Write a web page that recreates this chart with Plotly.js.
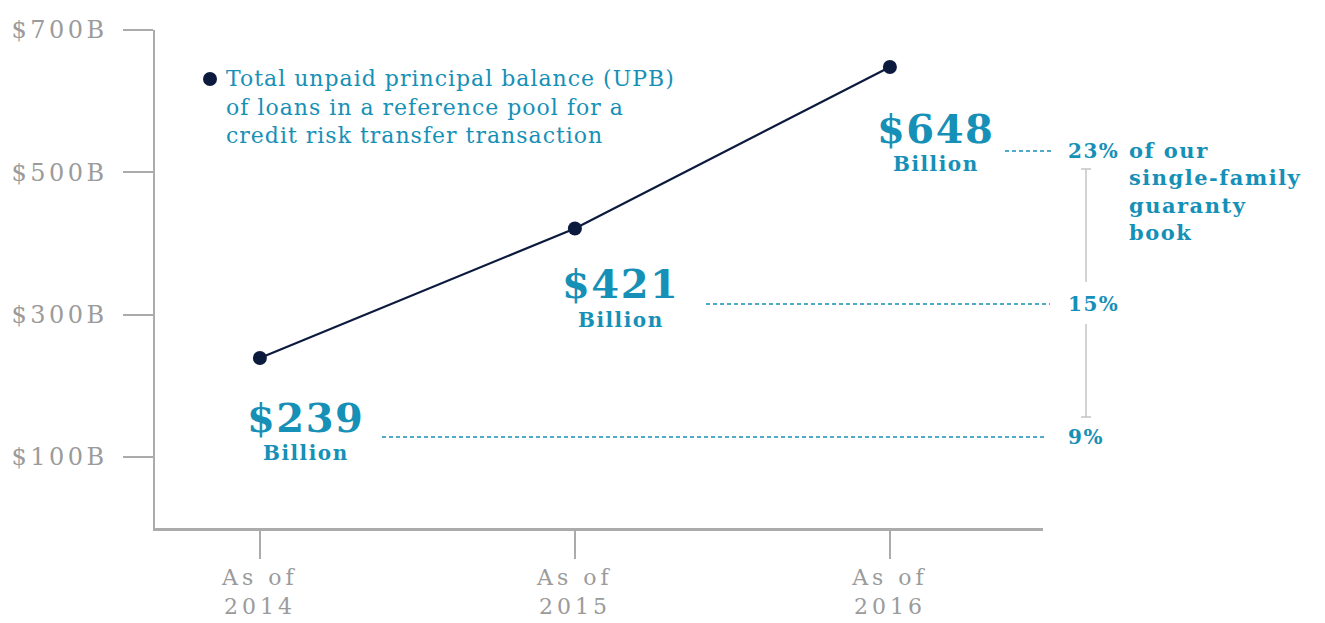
<!DOCTYPE html>
<html>
<head>
<meta charset="utf-8">
<script src="https://cdn.plot.ly/plotly-3.0.1.min.js"></script>
<style>
html,body{margin:0;padding:0;background:#fff;}
#chart{width:1325px;height:623px;}
.xtick text{letter-spacing:4px;}
.ytick text{letter-spacing:3.5px;}
.annotation-text{letter-spacing:1.5px;}
.annotation[data-index="10"] text{letter-spacing:1px;}
</style>
</head>
<body>
<div id="chart"></div>
<script>
// ---- data ----
const years = ['2014', '2015', '2016'];
const upb = [239, 421, 648];             // $ billions
const shares = ['9%', '15%', '23%'];     // share of single-family guaranty book
const yTickVals = [100, 300, 500, 700];
const yTickLabels = ['$100B', '$300B', '$500B', '$700B'];
const legendText = 'Total unpaid principal balance (UPB)<br>of loans in a reference pool for a<br>credit risk transfer transaction';
const shareNote = 'of our<br>single-family<br>guaranty<br>book';

// ---- style ----
const TEAL = '#1690b6';
const NAVY = '#0c1a3e';
const GRAY = '#9b9b9b';
const AXIS = '#ababab';
const FONT = 'DejaVu Serif';

// plot area geometry in pixels (for decorations only)
const L = 155, T = 30, W = 888, H = 498;
const px = x => (x - L) / W;
const py = y => (T + H - y) / H;

const xIdx = years.map((_, i) => i);

const trace = {
  x: xIdx, y: upb, type: 'scatter', mode: 'lines+markers',
  line: {color: NAVY, width: 2.2},
  marker: {color: NAVY, size: 14},
  hoverinfo: 'skip', showlegend: false, cliponaxis: false
};

const valShift = [-60, -55, -62];
const billShift = [-95, -92, -97];
const annotations = [];
// value labels under each point
upb.forEach((v, i) => {
  annotations.push({x: i, y: v, xref: 'x', yref: 'y', text: '$' + v, showarrow: false,
    xshift: 46, yshift: valShift[i], font: {family: FONT, size: 40, color: TEAL, weight: 'bold'}});
  annotations.push({x: i, y: v, xref: 'x', yref: 'y', text: 'Billion', showarrow: false,
    xshift: 46, yshift: billShift[i], font: {family: FONT, size: 20, color: TEAL, weight: 'bold'}});
});
// share labels
const shareY = [437, 304, 151];
shares.forEach((s, i) => {
  annotations.push({x: px(1066), y: py(shareY[i]), xref: 'paper', yref: 'paper', text: s,
    showarrow: false, xanchor: 'left', yanchor: 'middle',
    font: {family: FONT, size: 20, color: TEAL, weight: 'bold'}});
});
annotations.push({x: px(1127), y: py(136), xref: 'paper', yref: 'paper', text: shareNote,
  showarrow: false, xanchor: 'left', yanchor: 'top', align: 'left',
  font: {family: FONT, size: 21, color: TEAL, weight: 'bold'}});
// legend
annotations.push({x: px(224), y: py(64), xref: 'paper', yref: 'paper', text: legendText,
  showarrow: false, xanchor: 'left', yanchor: 'top', align: 'left',
  font: {family: FONT, size: 22, color: TEAL}});

const dash = {color: TEAL, width: 1.4, dash: '4px,3px'};
const grayLine = {color: '#c4c4c4', width: 1.5};
const shapes = [
  // dashed leaders
  {type: 'line', xref: 'paper', yref: 'paper', x0: px(382), x1: px(1044), y0: py(437), y1: py(437), line: dash},
  {type: 'line', xref: 'paper', yref: 'paper', x0: px(706), x1: px(1050), y0: py(304), y1: py(304), line: dash},
  {type: 'line', xref: 'paper', yref: 'paper', x0: px(1005), x1: px(1052), y0: py(151), y1: py(151), line: dash},
  // vertical bracket
  {type: 'line', xref: 'paper', yref: 'paper', x0: px(1086), x1: px(1086), y0: py(169), y1: py(282), line: grayLine},
  {type: 'line', xref: 'paper', yref: 'paper', x0: px(1086), x1: px(1086), y0: py(324), y1: py(417), line: grayLine},
  {type: 'line', xref: 'paper', yref: 'paper', x0: px(1081), x1: px(1091), y0: py(169), y1: py(169), line: grayLine},
  {type: 'line', xref: 'paper', yref: 'paper', x0: px(1081), x1: px(1091), y0: py(417), y1: py(417), line: grayLine},
  // legend dot
  {type: 'circle', xref: 'paper', yref: 'paper', x0: px(203), x1: px(217), y0: py(72), y1: py(86),
    fillcolor: NAVY, line: {width: 0}}
];

const layout = {
  width: 1325, height: 623,
  margin: {l: L, r: 1325 - L - W, t: T, b: 623 - T - H},
  paper_bgcolor: '#fff', plot_bgcolor: '#fff',
  font: {family: FONT},
  xaxis: {
    range: [-0.333, 2.486], tickvals: xIdx, ticktext: years.map(y => 'As of<br>' + y),
    showgrid: false, zeroline: false, showline: true, linecolor: AXIS, linewidth: 3,
    ticks: 'outside', ticklen: 28, tickwidth: 1.5, tickcolor: AXIS,
    tickfont: {family: FONT, size: 22, color: GRAY}, ticklabelstandoff: 0
  },
  yaxis: {
    range: [0, 700], tickvals: yTickVals, ticktext: yTickLabels,
    showgrid: false, zeroline: false, showline: true, linecolor: AXIS, linewidth: 2.5,
    ticks: 'outside', ticklen: 30, tickwidth: 2, tickcolor: AXIS,
    tickfont: {family: FONT, size: 24, color: GRAY}, ticklabelstandoff: 10
  },
  annotations: annotations,
  shapes: shapes,
  showlegend: false
};

Plotly.newPlot('chart', [trace], layout, {staticPlot: true, displayModeBar: false});
</script>
</body>
</html>
